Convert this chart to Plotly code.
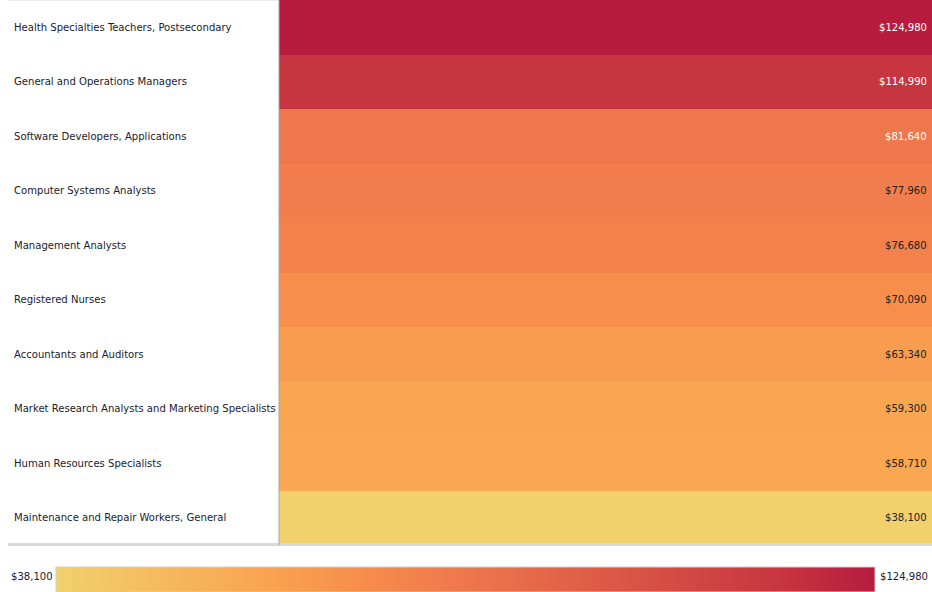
import plotly.graph_objects as go

occupations = [
    "Health Specialties Teachers, Postsecondary",
    "General and Operations Managers",
    "Software Developers, Applications",
    "Computer Systems Analysts",
    "Management Analysts",
    "Registered Nurses",
    "Accountants and Auditors",
    "Market Research Analysts and Marketing Specialists",
    "Human Resources Specialists",
    "Maintenance and Repair Workers, General",
]
median_wage = [124980, 114990, 81640, 77960, 76680, 70090, 63340, 59300, 58710, 38100]

W, H = 932, 592
BOTTOM = 46
PLOT_H = H - BOTTOM
LEFT_PX = 279
FONT = "DejaVu Sans Condensed, Liberation Sans Narrow, Arial Narrow, sans-serif"
FS = 11.2

scale = [
    [0.0, "#F2D06B"],
    [0.24, "#F9A751"],
    [0.37, "#F78E4C"],
    [0.5, "#EE774C"],
    [0.885, "#C73540"],
    [1.0, "#B71C3F"],
]

vmin, vmax = min(median_wage), max(median_wage)

fig = go.Figure(
    go.Heatmap(
        z=[[v] for v in median_wage],
        x=[0],
        y=occupations,
        colorscale=scale,
        zmin=vmin,
        zmax=vmax,
        hovertemplate="%{y}: $%{z:,}<extra></extra>",
        colorbar=dict(
            orientation="h",
            thickness=25,
            lenmode="pixels",
            len=819,
            x=466 / W,
            xanchor="center",
            y=(PLOT_H - 567) / PLOT_H,
            yanchor="top",
            xpad=0,
            ypad=0,
            ticks="",
            showticklabels=False,
            outlinewidth=1,
            outlinecolor="#cfcfcf",
        ),
    )
)

def px_y(py):
    return (PLOT_H - py) / PLOT_H

annotations = []
for name, v in zip(occupations, median_wage):
    frac = (v - vmin) / (vmax - vmin)
    annotations.append(dict(
        x=12 / W, xref="paper", y=name, yref="y",
        text=name, showarrow=False, xanchor="left",
        font=dict(family=FONT, size=FS, color="#1b1b2b"),
    ))
    annotations.append(dict(
        x=(W - 3) / W, xref="paper", y=name, yref="y",
        text=f"${v:,}", showarrow=False, xanchor="right",
        font=dict(family=FONT, size=FS, color="#ffffff" if frac > 0.48 else "#222222"),
    ))

annotations.append(dict(
    x=55 / W, xref="paper", y=px_y(578), yref="paper",
    text=f"${vmin:,}", showarrow=False, xanchor="right", yanchor="middle",
    font=dict(family=FONT, size=FS, color="#1b1b2b"),
))
annotations.append(dict(
    x=878 / W, xref="paper", y=px_y(578), yref="paper",
    text=f"${vmax:,}", showarrow=False, xanchor="left", yanchor="middle",
    font=dict(family=FONT, size=FS, color="#1b1b2b"),
))

shapes = [
    dict(type="line", xref="paper", yref="paper", x0=8 / W, x1=1,
         y0=px_y(545.5), y1=px_y(545.5), line=dict(color="#d9d9d9", width=3)),
    dict(type="line", xref="paper", yref="paper", x0=8 / W, x1=LEFT_PX / W,
         y0=px_y(0.5), y1=px_y(0.5), line=dict(color="#ececec", width=1)),
    dict(type="line", xref="paper", yref="paper", x0=LEFT_PX / W, x1=LEFT_PX / W,
         y0=0, y1=1, line=dict(color="#a3a6ad", width=1)),
]

fig.update_layout(
    width=W,
    height=H,
    margin=dict(l=0, r=0, t=0, b=BOTTOM),
    paper_bgcolor="white",
    plot_bgcolor="white",
    xaxis=dict(domain=[LEFT_PX / W, 1], visible=False, fixedrange=True),
    yaxis=dict(autorange="reversed", visible=False, fixedrange=True),
    annotations=annotations,
    shapes=shapes,
    showlegend=False,
)

fig.write_html("out.html")
